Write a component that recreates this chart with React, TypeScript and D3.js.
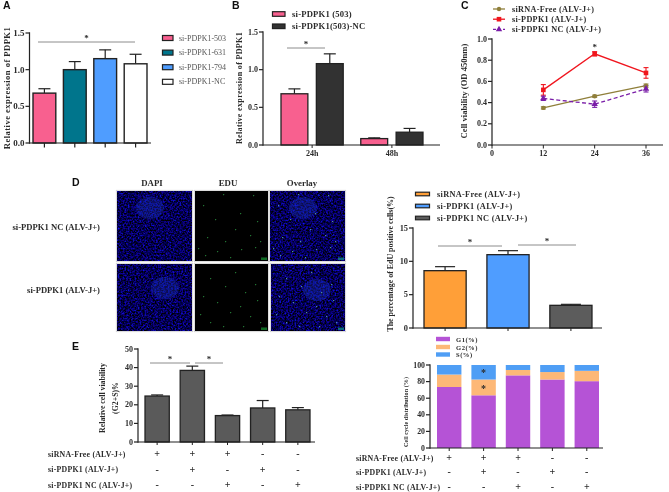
import React from "react";
import * as d3 from "d3";

const aCats = ["si-PDPK1-503", "si-PDPK1-631", "si-PDPK1-794", "si-PDPK1-NC"];
const aVals = [0.68, 1.0, 1.15, 1.08];
const aErr = [0.74, 1.11, 1.27, 1.21];
const aCols = ["#f8608f", "#00748c", "#4f9dff", "#ffffff"];

const bGroups = ["24h", "48h"];
const bSeries = ["si-PDPK1 (503)", "si-PDPK1(503)-NC"];
const bVals = [[0.68, 1.08], [0.085, 0.17]];
const bErr = [[0.745, 1.21], [0.095, 0.22]];
const bCols = ["#f8608f", "#333333"];

const cTimes = [12, 24, 36];
const cFree = [0.35, 0.46, 0.56];
const cFreeErr = [0.01, 0.01, 0.015];
const cSi = [0.52, 0.86, 0.68];
const cSiErr = [0.05, 0.02, 0.05];
const cNc = [0.44, 0.385, 0.53];
const cNcErr = [0.02, 0.03, 0.03];
const cNames = ["siRNA-Free (ALV-J+)", "si-PDPK1 (ALV-J+)", "si-PDPK1 NC (ALV-J+)"];

const dCats = ["siRNA-Free (ALV-J+)", "si-PDPK1 (ALV-J+)", "si-PDPK1 NC (ALV-J+)"];
const dVals = [8.6, 11, 3.4];
const dErr = [9.2, 11.6, 3.55];
const dCols = ["#ff9f38", "#4f9dff", "#5c5c5c"];

const eVals = [24.7, 38.5, 14.2, 18.3, 17.3];
const eErr = [25.3, 40.8, 14.5, 22.3, 18.5];
const signRows = ["siRNA-Free (ALV-J+)", "si-PDPK1 (ALV-J+)", "si-PDPK1 NC (ALV-J+)"];
const signs = [["+", "+", "+", "-", "-"], ["-", "+", "-", "+", "-"], ["-", "-", "+", "-", "+"]];

const fNames = ["G1(%)", "G2(%)", "S(%)"];
const fG1 = [73.5, 63.5, 87.5, 82.5, 80.5];
const fG2 = [15, 19, 6.5, 9, 12.5];
const fS = [11.5, 17.5, 6, 8.5, 7];
const fCols = ["#b552d6", "#fdb877", "#4f9ef5"];

const edu1 = [[28,3],[58,4],[8,14],[45,22],[62,30],[20,28],[40,38],[55,44],[12,46],[30,50],[65,50],[3,57],[22,60],[46,58],[60,56],[10,64],[35,66]];
const edu2 = [[15,14],[40,8],[60,20],[30,22],[50,28],[8,32],[22,38],[45,42],[62,36],[5,50],[35,48],[55,52],[15,58],[28,62],[48,62],[65,58]];

const SERIF = "'Liberation Serif', serif";
const INK = "#2b2b2b";

function T({ x, y, s = 8.5, a = "start", w = 700, c = INK, rot, ls, children }: any) {
  return (
    <text x={x} y={y} fontSize={s} textAnchor={a} fontWeight={w} fill={c} fontFamily={SERIF} letterSpacing={ls}
      dominantBaseline="central" transform={rot ? `rotate(${rot} ${x} ${y})` : undefined}>
      {children}
    </text>
  );
}

function YAxis({ x, scale, ticks, fmt, s = 8.5 }: any) {
  return (
    <g>
      <line x1={x} x2={x} y1={scale.range()[0] + 0.7} y2={scale.range()[1] - 0.7} stroke="#222" strokeWidth={1.2} />
      {ticks.map((t: number) => (
        <g key={t}>
          <line x1={x - 4} x2={x} y1={scale(t)} y2={scale(t)} stroke="#222" strokeWidth={1.2} />
          <T x={x - 5} y={scale(t)} s={s} a="end">{fmt(t)}</T>
        </g>
      ))}
    </g>
  );
}

function Bar({ x, w, y0, y1, ye, fill, sw = 1.3, cap = 6 }: any) {
  const cx = x + w / 2;
  return (
    <g>
      <line x1={cx} x2={cx} y1={y1} y2={ye} stroke="#222" strokeWidth={1.2} />
      <line x1={cx - cap} x2={cx + cap} y1={ye} y2={ye} stroke="#222" strokeWidth={1.2} />
      <rect x={x} y={y1} width={w} height={y0 - y1} fill={fill} stroke="#222" strokeWidth={sw} />
    </g>
  );
}

function Swatch({ x, y, w, h, fill }: any) {
  return <rect x={x} y={y - h / 2} width={w} height={h} fill={fill} stroke="#222" strokeWidth={1.2} />;
}

function Sig({ x1, x2, y }: any) {
  return (
    <g>
      <line x1={x1} x2={x2} y1={y} y2={y} stroke="#8c8c8c" strokeWidth={1} />
      <T x={(x1 + x2) / 2} y={y - 4} s={9} a="middle">*</T>
    </g>
  );
}

function Micro({ x, y, w, h, hot, seed, blue, dots, scale }: any) {
  return (
    <g>
      <rect x={x - 0.7} y={y - 0.7} width={w + 1.4} height={h + 1.4} fill="none" stroke="#cfcfcf" strokeWidth={0.8} />
      <rect x={x} y={y} width={w} height={h} fill="#020204" />
      {blue && <rect x={x} y={y} width={w} height={h} filter={`url(#noise${seed})`} />}
      {blue && <ellipse cx={hot[0]} cy={hot[1]} rx={14} ry={11} fill="#1c30c8" opacity={0.35} />}
      {dots && dots.map((d: number[], i: number) => (
        <rect key={i} x={x + d[0]} y={y + d[1]} width={1.2} height={1.2} fill={blue ? "#4f8f9a" : "#1f7a30"} />
      ))}
      {scale && <rect x={x + w - 7} y={y + h - 3.5} width={6} height={2.5} fill={blue ? "#0a6a80" : "#0f6a20"} />}
    </g>
  );
}

export default function App() {
  const ay = d3.scaleLinear().domain([0, 1.5]).range([143, 33]);
  const ax = d3.scaleBand<string>().domain(aCats).range([33, 147]).paddingInner(0.25);
  const by = d3.scaleLinear().domain([0, 1.5]).range([145, 32]);
  const bx0 = d3.scaleBand<string>().domain(bGroups).range([281, 423]).paddingInner(0.22);
  const bx1 = d3.scaleBand<string>().domain(bSeries).range([0, bx0.bandwidth()]).paddingInner(0.24);
  const cy = d3.scaleLinear().domain([0, 1]).range([145, 39]);
  const cx = d3.scaleLinear().domain([0, 36]).range([492, 646]);
  const line = d3.line<number>().x((_, i) => cx(cTimes[i])).y((v) => cy(v));
  const dy = d3.scaleLinear().domain([0, 15]).range([328, 228]);
  const dx = d3.scaleBand<string>().domain(dCats).range([424, 592]).paddingInner(0.33);
  const ey = d3.scaleLinear().domain([0, 50]).range([442, 349]);
  const ex = d3.scaleBand<number>().domain(d3.range(5)).range([145, 310]).paddingInner(0.31);
  const fy = d3.scaleLinear().domain([0, 100]).range([448, 365]);
  const fx = d3.scaleBand<number>().domain(d3.range(5)).range([437, 599]).paddingInner(0.29);
  const stack = d3.stack<number>().keys(["0", "1", "2"]).value((i, k) => [fG1, fG2, fS][+k][i]);
  const layers = stack(d3.range(5));

  const edLabels = [["DAPI", 152], ["EDU", 228], ["Overlay", 302]] as const;
  const f1 = (t: number) => t.toFixed(1);
  const f0 = (t: number) => String(t);

  return (
    <svg width={669} height={492} style={{ position: "absolute", left: 0, top: 0, background: "#fff" }}>
      <defs>
        <filter id="soft" x="0" y="0" width="100%" height="100%"><feGaussianBlur stdDeviation="0.5" /></filter>
        {[1, 2].map((sd) => (
          <filter key={sd} id={`noise${sd}`} x="0" y="0" width="100%" height="100%" colorInterpolationFilters="sRGB">
            <feTurbulence type="fractalNoise" baseFrequency="0.6" numOctaves={2} seed={sd * 7} />
            <feColorMatrix type="matrix" values={"0.12 0 0 0 -0.04  0.08 0 0 0 -0.03  1.7 0 0 0 -0.52  0 0 0 0 1"} />
          </filter>
        ))}
      </defs>
      <g filter="url(#soft)">
        {[["A", 7, 5], ["B", 236, 5], ["C", 465, 5], ["D", 76, 182], ["E", 76, 346]].map(([l, x, y]: any) => (
          <text key={l} x={x - 4} y={y + 4} fontSize={10.5} fontWeight={700} fontFamily="'Liberation Sans', sans-serif" fill="#111">{l}</text>
        ))}

        {/* A */}
        <T x={7} y={88} a="middle" rot={-90} s={8.6} ls={0.45}>Relative expression of PDPK1</T>
        <YAxis x={29.5} scale={ay} ticks={[0, 0.5, 1, 1.5]} fmt={f1} s={9} />
        {aCats.map((c, i) => (
          <Bar key={c} x={ax(c)} w={ax.bandwidth()} y0={ay(0)} y1={ay(aVals[i])} ye={ay(aErr[i])} fill={aCols[i]} sw={1.4} />
        ))}
        <line x1={29} x2={151} y1={143} y2={143} stroke="#222" strokeWidth={1.2} />
        {aCats.map((c) => (
          <line key={c} x1={ax(c)! + ax.bandwidth() / 2} x2={ax(c)! + ax.bandwidth() / 2} y1={143} y2={147.5} stroke="#222" strokeWidth={1.2} />
        ))}
        <Sig x1={38} x2={135} y={42} />
        {aCats.map((c, i) => (
          <g key={c}>
            <Swatch x={162.5} y={38 + i * 14.6} w={10.5} h={5} fill={aCols[i]} />
            <T x={179} y={38 + i * 14.6} s={8} w={400} c="#555">{c}</T>
          </g>
        ))}

        {/* B */}
        <T x={239} y={88} a="middle" rot={-90} s={8} ls={0.35}>Relative expression  of PDPK1</T>
        <YAxis x={263} scale={by} ticks={[0, 0.5, 1, 1.5]} fmt={f1} s={8} />
        {bGroups.map((g, i) => (
          <g key={g}>
            {bSeries.map((s, j) => (
              <Bar key={s} x={bx0(g)! + bx1(s)!} w={bx1.bandwidth()} y0={by(0)} y1={by(bVals[i][j])} ye={by(bErr[i][j])} fill={bCols[j]} />
            ))}
            <line x1={bx0(g)! + bx0.bandwidth() / 2} x2={bx0(g)! + bx0.bandwidth() / 2} y1={145} y2={148} stroke="#222" />
            <T x={bx0(g)! + bx0.bandwidth() / 2} y={153} s={8} a="middle">{g}</T>
          </g>
        ))}
        <line x1={263} x2={440} y1={145} y2={145} stroke="#222" strokeWidth={1.2} />
        <Sig x1={287} x2={325} y={48} />
        {bSeries.map((s, i) => (
          <g key={s}>
            <Swatch x={272.5} y={14 + i * 12.3} w={12.5} h={4.6} fill={bCols[i]} />
            <T x={292} y={14 + i * 12.3} s={8.6} ls={0.2}>{s}</T>
          </g>
        ))}

        {/* C */}
        <T x={464} y={91} a="middle" rot={-90} s={8.6}>Cell viability (OD 450nm)</T>
        <YAxis x={492} scale={cy} ticks={[0, 0.2, 0.4, 0.6, 0.8, 1]} fmt={f1} s={8} />
        <line x1={492} x2={663} y1={145} y2={145} stroke="#222" strokeWidth={1.2} />
        {[0, ...cTimes].map((t) => (
          <g key={t}>
            <line x1={cx(t)} x2={cx(t)} y1={145} y2={148.5} stroke="#222" />
            <T x={cx(t)} y={153} s={8} a="middle">{t}</T>
          </g>
        ))}
        <path d={line(cFree)!} fill="none" stroke="#8f7f3a" strokeWidth={1.3} />
        <path d={line(cSi)!} fill="none" stroke="#f0141e" strokeWidth={1.3} />
        <path d={line(cNc)!} fill="none" stroke="#7a1fa8" strokeWidth={1.3} strokeDasharray="4 2.5" />
        {cTimes.map((t, i) => (
          <g key={t}>
            {[[cFree, cFreeErr, "#8f7f3a"], [cSi, cSiErr, "#f0141e"], [cNc, cNcErr, "#7a1fa8"]].map(([v, e, col]: any, k) => (
              <g key={k} stroke={col} strokeWidth={1.1}>
                <line x1={cx(t)} x2={cx(t)} y1={cy(v[i] - e[i])} y2={cy(v[i] + e[i])} />
                <line x1={cx(t) - 2.5} x2={cx(t) + 2.5} y1={cy(v[i] - e[i])} y2={cy(v[i] - e[i])} />
                <line x1={cx(t) - 2.5} x2={cx(t) + 2.5} y1={cy(v[i] + e[i])} y2={cy(v[i] + e[i])} />
              </g>
            ))}
            <circle cx={cx(t)} cy={cy(cFree[i])} r={2.2} fill="#8f7f3a" />
            <rect x={cx(t) - 2.3} y={cy(cSi[i]) - 2.3} width={4.6} height={4.6} fill="#f0141e" />
            <path d={d3.symbol(d3.symbolTriangle, 18)()!} transform={`translate(${cx(t)},${cy(cNc[i])})`} fill="#7a1fa8" />
          </g>
        ))}
        <T x={cx(24)} y={47} s={9} a="middle">*</T>
        {cNames.map((n, i) => {
          const y = 9 + i * 10.2;
          return (
            <g key={n}>
              <line x1={493} x2={505} y1={y} y2={y} stroke={["#8f7f3a", "#f0141e", "#7a1fa8"][i]} strokeWidth={1.3} strokeDasharray={i === 2 ? "3 2" : undefined} />
              {i === 0 && <circle cx={499} cy={y} r={2.2} fill="#8f7f3a" />}
              {i === 1 && <rect x={496.7} y={y - 2.3} width={4.6} height={4.6} fill="#f0141e" />}
              {i === 2 && <path d={d3.symbol(d3.symbolTriangle, 18)()!} transform={`translate(499,${y})`} fill="#7a1fa8" />}
              <T x={512} y={y} s={8.2} ls={0.3}>{n}</T>
            </g>
          );
        })}

        {/* D images */}
        {edLabels.map(([l, x]) => <T key={l} x={x} y={183} s={8.8} a="middle">{l}</T>)}
        <T x={100} y={227} s={8.6} a="end">si-PDPK1 NC (ALV-J+)</T>
        <T x={100} y={290} s={8.6} a="end">si-PDPK1 (ALV-J+)</T>
        <Micro x={117} y={191} w={75} h={70} blue seed={1} hot={[150, 208]} />
        <Micro x={195} y={191} w={73} h={70} dots={edu1} scale />
        <Micro x={270} y={191} w={75} h={70} blue seed={1} hot={[303, 208]} dots={edu1} scale />
        <Micro x={117} y={264} w={75} h={67} blue seed={2} hot={[165, 288]} />
        <Micro x={195} y={264} w={73} h={67} dots={edu2} scale />
        <Micro x={271} y={264} w={74} h={67} blue seed={2} hot={[317, 290]} dots={edu2} scale />

        {/* D bars */}
        <T x={390} y={264} a="middle" rot={-90} s={7.9}>The percentage of EdU positive cells(%)</T>
        <YAxis x={413} scale={dy} ticks={[0, 5, 10, 15]} fmt={f0} s={8.4} />
        {dCats.map((c, i) => (
          <g key={c}>
            <Bar x={dx(c)} w={dx.bandwidth()} y0={dy(0)} y1={dy(dVals[i])} ye={dy(dErr[i])} fill={dCols[i]} cap={10} />
            <line x1={dx(c)! + dx.bandwidth() / 2} x2={dx(c)! + dx.bandwidth() / 2} y1={328} y2={331} stroke="#222" />
            <Swatch x={415.5} y={194 + i * 12} w={14} h={3.6} fill={dCols[i]} />
            <T x={437} y={194 + i * 12} s={8.3} ls={0.3}>{c}</T>
          </g>
        ))}
        <line x1={413} x2={602} y1={328} y2={328} stroke="#222" strokeWidth={1.2} />
        <Sig x1={438} x2={502} y={246} />
        <Sig x1={518} x2={576} y={245} />

        {/* E */}
        <T x={102} y={398} a="middle" rot={-90} s={7.8}>Relative cell viability</T>
        <T x={115} y={398} a="middle" rot={-90} s={7.8}>(G2+S)%</T>
        <YAxis x={138} scale={ey} ticks={[0, 10, 20, 30, 40, 50]} fmt={f0} s={8} />
        {eVals.map((v, i) => (
          <g key={i}>
            <Bar x={ex(i)} w={ex.bandwidth()} y0={ey(0)} y1={ey(v)} ye={ey(eErr[i])} fill="#5a5a5a" cap={6} />
            <line x1={ex(i)! + ex.bandwidth() / 2} x2={ex(i)! + ex.bandwidth() / 2} y1={442} y2={445} stroke="#222" />
          </g>
        ))}
        <line x1={138} x2={315} y1={442} y2={442} stroke="#222" strokeWidth={1.2} />
        <Sig x1={150} x2={190} y={363} />
        <Sig x1={195} x2={223} y={363} />
        {signRows.map((r, k) => {
          const y = [454, 469.5, 485][k];
          return (
            <g key={r}>
              <T x={48} y={y} s={7.8} ls={0.25}>{r}</T>
              {signs[k].map((sg, i) => <T key={i} x={ex(i)! + ex.bandwidth() / 2} y={y - 0.5} s={10} a="middle">{sg}</T>)}
            </g>
          );
        })}

        {/* F */}
        <T x={405} y={412} a="middle" rot={-90} s={6.2}>Cell cycle distribution (%)</T>
        <YAxis x={430} scale={fy} ticks={[0, 20, 40, 60, 80, 100]} fmt={f0} s={7.8} />
        {layers.map((l, k) => (
          <g key={k}>
            {l.map((d, i) => (
              <rect key={i} x={fx(i)} y={fy(d[1])} width={fx.bandwidth()} height={fy(d[0]) - fy(d[1])} fill={fCols[k]} />
            ))}
          </g>
        ))}
        {d3.range(5).map((i) => (
          <line key={i} x1={fx(i)! + fx.bandwidth() / 2} x2={fx(i)! + fx.bandwidth() / 2} y1={448} y2={451} stroke="#222" />
        ))}
        <line x1={430} x2={603} y1={448} y2={448} stroke="#222" strokeWidth={1.2} />
        <T x={fx(1)! + fx.bandwidth() / 2} y={372.5} s={10} a="middle">*</T>
        <T x={fx(1)! + fx.bandwidth() / 2} y={388.5} s={10} a="middle">*</T>
        {fNames.map((n, i) => (
          <g key={n}>
            <rect x={436} y={[339, 347, 354.5][i] - 2.2} width={14} height={4.4} fill={fCols[i]} />
            <T x={456} y={[339, 347, 354.5][i]} s={6.6} ls={0.5}>{n}</T>
          </g>
        ))}
        {signRows.map((r, k) => {
          const y = [458, 472, 487][k];
          return (
            <g key={r}>
              <T x={356} y={y} s={7.8} ls={0.25}>{r}</T>
              {signs[k].map((sg, i) => <T key={i} x={fx(i)! + fx.bandwidth() / 2} y={y - 0.5} s={10} a="middle">{sg}</T>)}
            </g>
          );
        })}
      </g>
    </svg>
  );
}
